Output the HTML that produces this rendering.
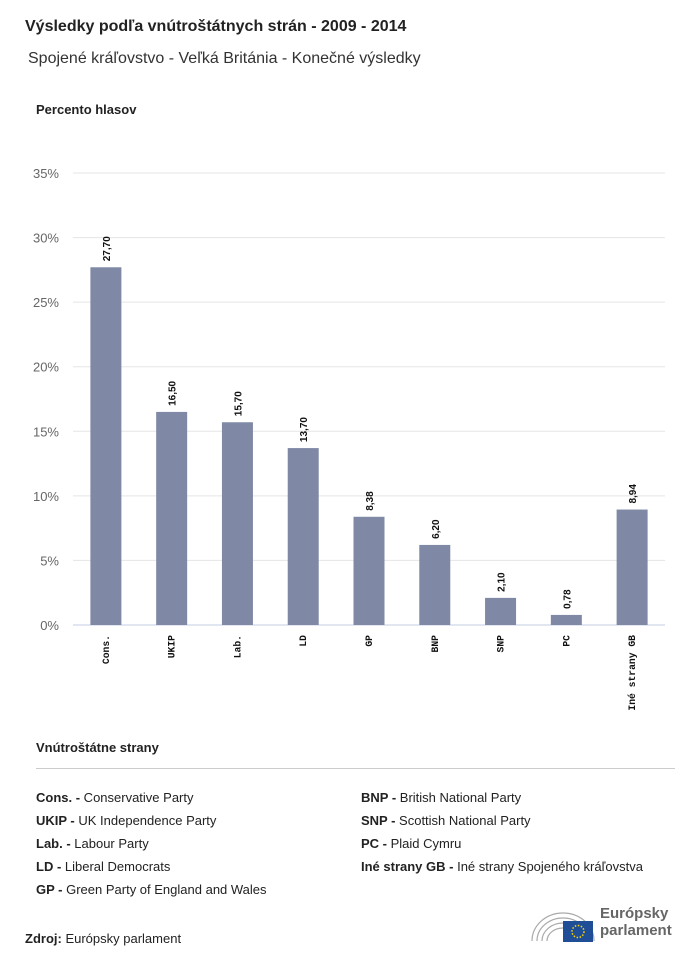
<!DOCTYPE html>
<html><head><meta charset="utf-8"><style>
body{margin:0;background:#fff;width:700px;height:964px;overflow:hidden;font-family:"Liberation Sans","DejaVu Sans",sans-serif;color:#222}
.abs{position:absolute}
</style></head><body>
<div class="abs" style="left:25px;top:18px;font-size:16px;font-weight:bold;color:#222">Výsledky podľa vnútroštátnych strán - 2009 - 2014</div>
<div class="abs" style="left:28px;top:50px;font-size:16px;color:#333">Spojené kráľovstvo - Veľká Británia - Konečné výsledky</div>
<div class="abs" style="left:36px;top:102px;font-size:13px;font-weight:bold">Percento hlasov</div>
<svg class="abs" style="left:0;top:0" width="700" height="740">
<g id="grid"></g><g id="bars"></g>
</svg>
<div class="abs" style="left:36px;top:740px;font-size:13px;font-weight:bold">Vnútroštátne strany</div>
<div class="abs" style="left:36px;top:768px;width:639px;height:1px;background:#ccc"></div>
<div class="abs" style="left:36px;top:786px;font-size:13px;line-height:23px">
<div><b>Cons. -</b> Conservative Party</div>
<div><b>UKIP -</b> UK Independence Party</div>
<div><b>Lab. -</b> Labour Party</div>
<div><b>LD -</b> Liberal Democrats</div>
<div><b>GP -</b> Green Party of England and Wales</div>
</div>
<div class="abs" style="left:361px;top:786px;font-size:13px;line-height:23px">
<div><b>BNP -</b> British National Party</div>
<div><b>SNP -</b> Scottish National Party</div>
<div><b>PC -</b> Plaid Cymru</div>
<div><b>Iné strany GB -</b> Iné strany Spojeného kráľovstva</div>
</div>
<div class="abs" style="left:25px;top:931px;font-size:13px"><b>Zdroj:</b> Európsky parlament</div>
<div class="abs" style="left:530px;top:905px;width:150px;height:40px">
<svg width="66" height="40">
<g fill="none" stroke="#aaa" stroke-width="1.2">
<path d="M2 36 A31 28 0 0 1 64 36"/><path d="M7 36 A26 23 0 0 1 59 36"/><path d="M12 36 A21 18 0 0 1 54 36"/><path d="M17 36 A16 13 0 0 1 49 36"/></g>
<rect x="33" y="16" width="30" height="21" fill="#1f4e96"/>
<circle cx="48" cy="26.5" r="6" fill="none" stroke="#ffd500" stroke-width="1.5" stroke-dasharray="1.5 1.6"/>
</svg>
<div class="abs" style="left:70px;top:0;font-size:15px;font-weight:bold;color:#666;line-height:17px">Európsky<br>parlament</div>
</div>
<script>
const categories=["Cons.","UKIP","Lab.","LD","GP","BNP","SNP","PC","Iné strany GB"];
const values=[27.70,16.50,15.70,13.70,8.38,6.20,2.10,0.78,8.94];
const valueLabels=["27,70","16,50","15,70","13,70","8,38","6,20","2,10","0,78","8,94"];
const ticks=[0,5,10,15,20,25,30,35];
const ns="http://www.w3.org/2000/svg";
const x0=73,x1=665,y0=625,y35=173;
const y=v=>y0-(v/35)*(y0-y35);
const bw=(x1-x0)/categories.length;
const xc=i=>x0+bw*(i+0.5);
const g=document.getElementById('grid'),b=document.getElementById('bars');
function mk(t,a,p){const e=document.createElementNS(ns,t);for(const k in a)e.setAttribute(k,a[k]);p.appendChild(e);return e;}
ticks.forEach(t=>{
 const l=mk('line',{x1:x0,x2:x1,y1:y(t),y2:y(t),stroke:t===0?'#c5cde0':'#e5e5e5','stroke-width':1},g);
 
 
 const tx=mk('text',{x:59,y:y(t)+5,'text-anchor':'end','font-size':13,fill:'#666','font-family':'Liberation Sans, sans-serif'},g);
 tx.textContent=t+'%';
 
 
});
categories.forEach((c,i)=>{
 const r=mk('rect',{x:xc(i)-15.5,y:y(values[i]),width:31,height:y0-y(values[i]),fill:'#7f89a5'},b);
 
 
 const vl=mk('text',{transform:`translate(${xc(i)+4},${y(values[i])-6}) rotate(-90)`,'font-size':10,'font-weight':'bold',fill:'#111','font-family':'Liberation Sans, sans-serif'},b);
 vl.textContent=valueLabels[i];
 
 
 const cl=mk('text',{transform:`translate(${xc(i)+3},${y0+10}) rotate(-90)`,'text-anchor':'end','font-size':9.7,'font-weight':'bold',fill:'#111','font-family':'Liberation Mono, monospace'},b);
 cl.textContent=c;
 
 
});
</script>
</body></html>
